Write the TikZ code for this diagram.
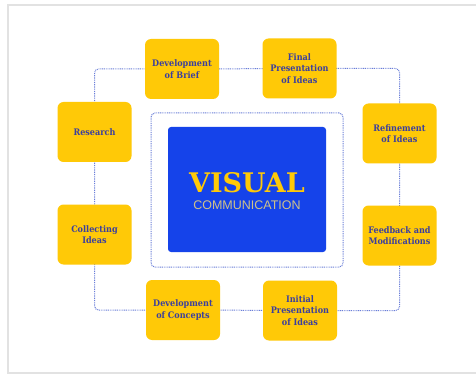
\documentclass[tikz,border=0pt]{standalone}
\usepackage{fontspec}
\setmainfont{DejaVu Serif}
\newfontfamily\slabc{DejaVu Serif Condensed}[BoldFont={DejaVu Serif Condensed Bold}]
\newfontfamily\slab{DejaVu Serif}[BoldFont={DejaVu Serif Bold}]
\newfontfamily\sansf{Liberation Sans}
\usetikzlibrary{backgrounds}
\definecolor{boxyellow}{HTML}{FFC907}
\definecolor{txtblue}{HTML}{3B3F9E}
\definecolor{mainblue}{HTML}{1543EA}
\definecolor{dotblue}{HTML}{6A7ED8}
\definecolor{commcol}{HTML}{CFC28A}
\definecolor{framegray}{HTML}{E2E2E2}
\tikzset{
  stepbox/.style={rectangle, rounded corners=6pt, fill=boxyellow, minimum width=74pt, minimum height=60pt,
    align=center, text=txtblue, font=\slabc\bfseries\fontsize{9}{11.3}\selectfont, inner sep=1pt},
  dotline/.style={draw=dotblue, line width=1pt, dash pattern=on 0.9pt off 0.9pt},
}
\begin{document}
\begin{tikzpicture}[x=1pt,y=-1pt]
\useasboundingbox (0,0) rectangle (476,374);
% inner dotted frame and main box
\node[dotline, rectangle, rounded corners=4pt, minimum width=192pt, minimum height=154pt] (frame) at (247,190) {};
\node[rectangle, rounded corners=3pt, fill=mainblue, minimum width=158pt, minimum height=125pt] (main) at (247,189.5) {};
\node[anchor=base, inner sep=0pt, text=boxyellow, font=\slab\bfseries\fontsize{27}{27}\selectfont] (visual) at (247,193) {VISUAL};
\node[anchor=base, inner sep=0pt, text=commcol, font=\sansf\fontsize{12.5}{13}\selectfont] (comm) at (247,209.5) {COMMUNICATION};
% step boxes
\node[stepbox] (brief) at (182,69) {Development\\of Brief};
\node[stepbox] (final) at (299.5,68.5) {Final\\Presentation\\of Ideas};
\node[stepbox] (research) at (94.5,132) {Research};
\node[stepbox] (refine) at (399.5,133.5) {Refinement\\of Ideas};
\node[stepbox] (collect) at (94.5,234.5) {Collecting\\Ideas};
\node[stepbox] (feedback) at (399.5,235.5) {Feedback and\\Modifications};
\node[stepbox] (concepts) at (183,310) {Development\\of Concepts};
\node[stepbox] (initial) at (300,310.5) {Initial\\Presentation\\of Ideas};
\begin{scope}[on background layer]
\fill[white] (0,0) rectangle (476,374);
\draw[framegray, line width=1.2pt] (8,5) rectangle (482,373);
\draw[dotline, rounded corners=4pt]
  (research.center) |- (brief.center) -- (final.center) -| (refine.center)
  -- (feedback.center) |- (initial.center) -- (concepts.center) -| (collect.center) -- cycle;
\end{scope}
\end{tikzpicture}
\end{document}
